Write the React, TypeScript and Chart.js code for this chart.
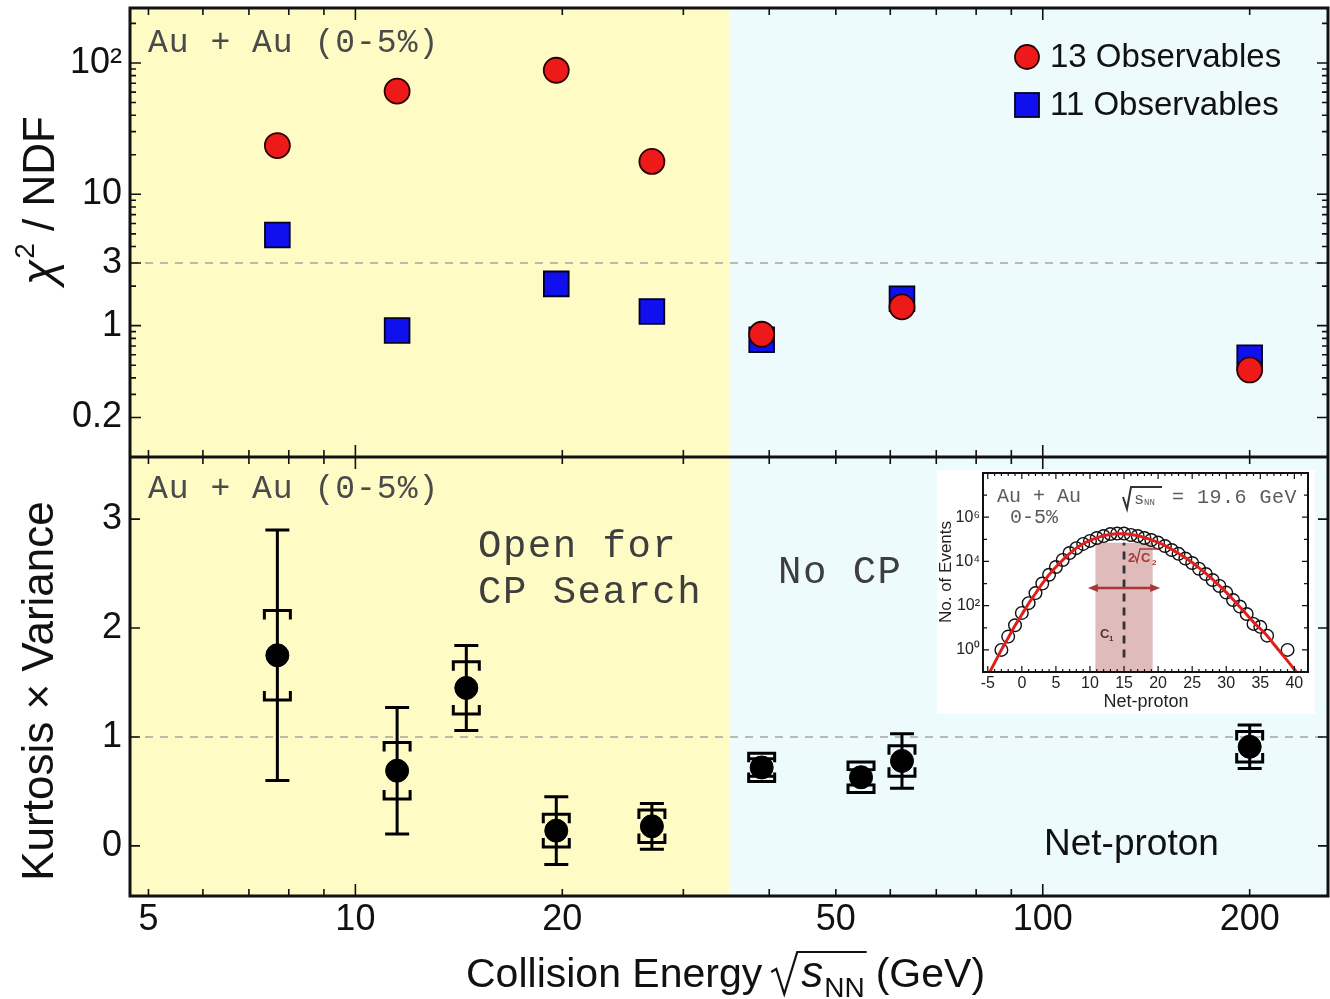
import React, { useEffect, useRef } from 'react';
import { Chart, registerables } from 'chart.js';

Chart.register(...registerables);

// ---------------- Data ----------------
const chi2Energies = [7.7, 11.5, 19.6, 27, 39, 62.4, 200];
const chi2Obs13 = [23.5, 61, 88, 17.8, 0.86, 1.39, 0.46];
const chi2Obs11 = [4.9, 0.92, 2.08, 1.28, 0.78, 1.6, 0.57];
const chi2Threshold = 3;

const kvEnergies = [7.7, 11.5, 14.5, 19.6, 27, 39, 54.4, 62.4, 200];
const kvValues = [1.75, 0.69, 1.45, 0.14, 0.18, 0.72, 0.63, 0.78, 0.91];
const kvStatErr = [1.15, 0.58, 0.39, 0.31, 0.21, 0.08, 0.07, 0.25, 0.2];
const kvSysErr = [0.41, 0.26, 0.24, 0.15, 0.15, 0.13, 0.14, 0.14, 0.14];
const kvReference = 1;

const cpBoundaryEnergy = 35;
const energyRange = [4.7, 260];
const chi2Range = [0.1, 262];
const kvRange = [-0.46, 3.57];

const xLabelledTicks = [5, 10, 20, 50, 100, 200];
const xMinorTicks = [6, 7, 8, 9, 30, 40, 60, 70, 80, 90];
const xDecadeTicks = [10, 100];

const chi2TickValues = [0.2, 1, 3, 10, 100];
const chi2TickLabels = ['0.2', '1', '3', '10', '10²'];
const chi2MinorTicks = [0.3, 0.4, 0.5, 0.6, 0.7, 0.8, 0.9, 2, 4, 5, 6, 7, 8, 9, 20, 30, 40, 50, 60, 70, 80, 90, 200];
const kvTickValues = [0, 1, 2, 3];
const kvTickLabels = ['0', '1', '2', '3'];

// Inset: net-proton distribution at 19.6 GeV
const netProtonBins = [-3, -2, -1, 0, 1, 2, 3, 4, 5, 6, 7, 8, 9, 10, 11, 12, 13, 14, 15, 16, 17, 18, 19, 20, 21, 22, 23, 24, 25, 26, 27, 28, 29, 30, 31, 32, 33, 34, 35, 36, 39];
const netProtonCounts = [1, 4, 13, 47, 130, 370, 1000, 2500, 5600, 11700, 24000, 40000, 62000, 85000, 115000, 141000, 174000, 182000, 182000, 158000, 141000, 115000, 93000, 71000, 50000, 33000, 22000, 13500, 8500, 4700, 2700, 1450, 780, 390, 180, 91, 42, 15, 11, 4.4, 1];
const fitNetProton = [-5, -4, -3, -2, -1, 0, 1, 2, 3, 4, 5, 6, 7, 8, 9, 10, 11, 12, 13, 14, 15, 16, 17, 18, 19, 20, 21, 22, 23, 24, 25, 26, 27, 28, 29, 30, 31, 32, 33, 34, 35, 36, 37, 38, 39, 40, 41];
const fitCounts = [0.066, 0.26, 1.0, 3.5, 12.6, 40, 126, 355, 1000, 2500, 5600, 11500, 22500, 40000, 63000, 89000, 117000, 145000, 166000, 178000, 178000, 166000, 145000, 120000, 95000, 72000, 52000, 35000, 23000, 14800, 8900, 5100, 2900, 1550, 800, 400, 190, 87, 40, 18, 9, 4.4, 1.8, 0.75, 0.32, 0.13, 0.05];
const insetXRange = [-5.7, 42];
const insetYRange = [0.1, 1e8];
const insetXTicks = [-5, 0, 5, 10, 15, 20, 25, 30, 35, 40];
const insetYTickValues = [1, 100, 1e4, 1e6];
const insetYTickLabels = ['10⁰', '10²', '10⁴', '10⁶'];
const c1Mean = 15;
const widthBand = [10.8, 19.2];
const widthBandTop = 7e4;
const widthArrow = [9.7, 20.3];
const widthArrowLevel = 630;
const c1LineSpan = [0.45, 7e4];

// ---------------- Styling ----------------
const SANS = '"Liberation Sans", Arial, Helvetica, sans-serif';
const MONO = '"Liberation Mono", "Courier New", monospace';
const YELLOW = '#FEFBC4';
const CYAN = '#EEFBFC';
const RED = '#EE1A1A';
const BLUE = '#1010EE';
const MONO_GREY = '#4a4a4a';

function fixBox(width?: number, height?: number) {
  return (s: any) => {
    if (width !== undefined) s.width = width;
    if (height !== undefined) s.height = height;
    s.paddingTop = 0;
    s.paddingBottom = 0;
    s.paddingLeft = 0;
    s.paddingRight = 0;
  };
}

function monoText(ctx: CanvasRenderingContext2D, text: string, x: number, y: number, size: number, spacing: number, color: string) {
  ctx.save();
  ctx.font = `${size}px ${MONO}`;
  (ctx as any).letterSpacing = `${spacing}px`;
  ctx.fillStyle = color;
  ctx.textAlign = 'left';
  ctx.textBaseline = 'middle';
  ctx.fillText(text, x, y);
  ctx.restore();
}

const mainPlugin = {
  id: 'mainDecor',
  beforeDraw(chart: any) {
    const { ctx, chartArea: a, scales } = chart;
    const xb = scales.x.getPixelForValue(cpBoundaryEnergy);
    ctx.save();
    ctx.fillStyle = '#ffffff';
    ctx.fillRect(0, 0, chart.width, chart.height);
    ctx.fillStyle = YELLOW;
    ctx.fillRect(a.left, a.top, xb - a.left, a.bottom - a.top);
    ctx.fillStyle = CYAN;
    ctx.fillRect(xb, a.top, a.right - xb, a.bottom - a.top);
    ctx.restore();
  },
  afterDatasetsDraw(chart: any) {
    const { ctx, scales } = chart;
    const sx = scales.x;
    const sy = scales.yBot;
    ctx.save();
    ctx.strokeStyle = '#000';
    ctx.lineWidth = 3;
    ctx.lineCap = 'butt';
    for (let i = 0; i < kvEnergies.length; i++) {
      const x = sx.getPixelForValue(kvEnergies[i]);
      const v = kvValues[i];
      const yh = sy.getPixelForValue(v + kvStatErr[i]);
      const yl = sy.getPixelForValue(v - kvStatErr[i]);
      ctx.beginPath();
      ctx.moveTo(x, yh); ctx.lineTo(x, yl);
      ctx.moveTo(x - 12, yh); ctx.lineTo(x + 12, yh);
      ctx.moveTo(x - 12, yl); ctx.lineTo(x + 12, yl);
      ctx.stroke();
      const sh = sy.getPixelForValue(v + kvSysErr[i]);
      const sl = sy.getPixelForValue(v - kvSysErr[i]);
      const leg = Math.min(9, (sl - sh) / 2);
      const hw = 13;
      ctx.beginPath();
      ctx.moveTo(x - hw, sh + leg); ctx.lineTo(x - hw, sh); ctx.lineTo(x + hw, sh); ctx.lineTo(x + hw, sh + leg);
      ctx.moveTo(x - hw, sl - leg); ctx.lineTo(x - hw, sl); ctx.lineTo(x + hw, sl); ctx.lineTo(x + hw, sl - leg);
      ctx.stroke();
    }
    ctx.restore();
  },
  afterDraw(chart: any) {
    const { ctx, chartArea: a, scales } = chart;
    const sx = scales.x;
    const yTop = scales.yTop;
    const yBot = scales.yBot;
    const mid = yTop.bottom;
    ctx.save();
    // ticks
    ctx.strokeStyle = '#111';
    ctx.lineWidth = 1.6;
    ctx.beginPath();
    const xAll = [...xLabelledTicks, ...xMinorTicks];
    for (const v of xAll) {
      const px = sx.getPixelForValue(v);
      const len = xDecadeTicks.includes(v) ? 12 : 7;
      ctx.moveTo(px, a.bottom); ctx.lineTo(px, a.bottom - len);
      ctx.moveTo(px, a.top); ctx.lineTo(px, a.top + len);
      ctx.moveTo(px, mid - len); ctx.lineTo(px, mid + len);
    }
    for (const v of chi2TickValues) {
      const py = yTop.getPixelForValue(v);
      ctx.moveTo(a.left, py); ctx.lineTo(a.left + 11, py);
      ctx.moveTo(a.right, py); ctx.lineTo(a.right - 11, py);
    }
    for (const v of chi2MinorTicks) {
      const py = yTop.getPixelForValue(v);
      ctx.moveTo(a.left, py); ctx.lineTo(a.left + 6, py);
      ctx.moveTo(a.right, py); ctx.lineTo(a.right - 6, py);
    }
    for (const v of kvTickValues) {
      const py = yBot.getPixelForValue(v);
      ctx.moveTo(a.left, py); ctx.lineTo(a.left + 10, py);
      ctx.moveTo(a.right, py); ctx.lineTo(a.right - 10, py);
    }
    ctx.stroke();
    // frame
    ctx.lineWidth = 3;
    ctx.strokeStyle = '#111';
    ctx.strokeRect(a.left, a.top, a.right - a.left, a.bottom - a.top);
    ctx.beginPath();
    ctx.moveTo(a.left, mid); ctx.lineTo(a.right, mid);
    ctx.stroke();
    ctx.restore();

    // panel texts
    monoText(ctx, 'Au + Au (0-5%)', 148, 43, 33, 1, MONO_GREY);
    monoText(ctx, 'Au + Au (0-5%)', 148, 489, 33, 1, MONO_GREY);
    monoText(ctx, 'Open for', 478, 547, 39, 1.5, '#3e3e3e');
    monoText(ctx, 'CP Search', 478, 593, 39, 1.5, '#3e3e3e');
    monoText(ctx, 'No CP', 778, 573, 39, 1.5, '#3e3e3e');

    ctx.save();
    ctx.fillStyle = '#111';
    ctx.font = `37px ${SANS}`;
    ctx.textBaseline = 'alphabetic';
    ctx.textAlign = 'left';
    ctx.fillText('Net-proton', 1044, 855);

    // legend
    const ds = chart.data.datasets;
    ctx.beginPath();
    ctx.arc(1027, 57, 12, 0, Math.PI * 2);
    ctx.fillStyle = RED; ctx.fill();
    ctx.lineWidth = 1.8; ctx.strokeStyle = '#2a0000'; ctx.stroke();
    ctx.fillStyle = BLUE;
    ctx.fillRect(1015, 93, 24, 24);
    ctx.strokeStyle = '#000022';
    ctx.strokeRect(1015, 93, 24, 24);
    ctx.fillStyle = '#111';
    ctx.font = `33px ${SANS}`;
    ctx.textBaseline = 'middle';
    ctx.fillText(ds[0].label, 1050, 58);
    ctx.fillText(ds[1].label, 1050, 106);

    // y titles
    ctx.save();
    ctx.translate(54, 201);
    ctx.rotate(-Math.PI / 2);
    ctx.textBaseline = 'alphabetic';
    ctx.font = `italic 46px ${SANS}`;
    const wChi = ctx.measureText('χ').width;
    ctx.font = `28px ${SANS}`;
    const wSup = ctx.measureText('2').width;
    ctx.font = `44px ${SANS}`;
    const rest = ' / NDF';
    const wRest = ctx.measureText(rest).width;
    let tx = -(wChi + wSup + wRest) / 2;
    ctx.font = `italic 46px ${SANS}`;
    ctx.fillText('χ', tx, 0);
    tx += wChi + 1;
    ctx.font = `28px ${SANS}`;
    ctx.fillText('2', tx, -20);
    tx += wSup;
    ctx.font = `44px ${SANS}`;
    ctx.fillText(rest, tx, 0);
    ctx.restore();

    ctx.save();
    ctx.translate(53, 691);
    ctx.rotate(-Math.PI / 2);
    ctx.textAlign = 'center';
    ctx.textBaseline = 'alphabetic';
    ctx.font = `44px ${SANS}`;
    ctx.fillText('Kurtosis × Variance', 0, 0);
    ctx.restore();

    // x title
    const base = 987;
    ctx.textBaseline = 'alphabetic';
    ctx.textAlign = 'left';
    ctx.font = `41px ${SANS}`;
    let x = 466;
    ctx.fillText('Collision Energy', x, base);
    x += ctx.measureText('Collision Energy').width + 9;
    const sxs = x + 30;
    ctx.font = `italic 44px ${SANS}`;
    const sw = ctx.measureText('s').width;
    ctx.font = `28px ${SANS}`;
    const nw = ctx.measureText('NN').width;
    ctx.strokeStyle = '#111';
    ctx.lineWidth = 2.2;
    ctx.beginPath();
    ctx.moveTo(x, base - 15);
    ctx.lineTo(x + 5, base - 18);
    ctx.lineTo(x + 13, base + 7);
    ctx.lineTo(x + 26, base - 35);
    ctx.lineTo(sxs + sw + nw + 3, base - 35);
    ctx.stroke();
    ctx.font = `italic 44px ${SANS}`;
    ctx.fillText('s', sxs, base);
    ctx.font = `28px ${SANS}`;
    ctx.fillText('NN', sxs + sw + 1, base + 10);
    ctx.font = `41px ${SANS}`;
    ctx.fillText('(GeV)', sxs + sw + nw + 12, base);
    ctx.restore();
  },
};

const insetPlugin = {
  id: 'insetDecor',
  beforeDraw(chart: any) {
    const { ctx } = chart;
    ctx.save();
    ctx.fillStyle = '#ffffff';
    ctx.fillRect(0, 0, chart.width, chart.height);
    ctx.restore();
  },
  beforeDatasetsDraw(chart: any) {
    const { ctx, chartArea: a, scales } = chart;
    const x0 = scales.x.getPixelForValue(widthBand[0]);
    const x1 = scales.x.getPixelForValue(widthBand[1]);
    const yt = scales.y.getPixelForValue(widthBandTop);
    ctx.save();
    ctx.fillStyle = 'rgba(185, 105, 105, 0.45)';
    ctx.fillRect(x0, yt, x1 - x0, a.bottom - yt);
    ctx.restore();
  },
  afterDatasetsDraw(chart: any) {
    const { ctx, scales } = chart;
    const ya = scales.y.getPixelForValue(widthArrowLevel);
    const xa0 = scales.x.getPixelForValue(widthArrow[0]);
    const xa1 = scales.x.getPixelForValue(widthArrow[1]);
    ctx.save();
    ctx.strokeStyle = '#A83838';
    ctx.fillStyle = '#A83838';
    ctx.lineWidth = 2.5;
    ctx.beginPath();
    ctx.moveTo(xa0 + 6, ya); ctx.lineTo(xa1 - 6, ya);
    ctx.stroke();
    ctx.beginPath();
    ctx.moveTo(xa0, ya); ctx.lineTo(xa0 + 10, ya - 4); ctx.lineTo(xa0 + 10, ya + 4); ctx.closePath();
    ctx.moveTo(xa1, ya); ctx.lineTo(xa1 - 10, ya - 4); ctx.lineTo(xa1 - 10, ya + 4); ctx.closePath();
    ctx.fill();
    // 2 sqrt(C2)
    ctx.font = `bold 13px ${SANS}`;
    ctx.textBaseline = 'alphabetic';
    ctx.fillText('2', 191, 92);
    ctx.lineWidth = 1.3;
    ctx.beginPath();
    ctx.moveTo(198, 86); ctx.lineTo(200, 92); ctx.lineTo(203, 79); ctx.lineTo(222, 79);
    ctx.stroke();
    ctx.fillText('C', 204, 92);
    ctx.font = `bold 8px ${SANS}`;
    ctx.fillText('2', 215, 95);
    // C1
    ctx.fillStyle = '#5a3434';
    ctx.font = `bold 13px ${SANS}`;
    ctx.fillText('C', 163, 168);
    ctx.font = `bold 8px ${SANS}`;
    ctx.fillText('1', 172, 171);
    ctx.restore();
  },
  afterDraw(chart: any) {
    const { ctx, chartArea: a, scales } = chart;
    ctx.save();
    ctx.strokeStyle = '#111';
    ctx.lineWidth = 1.2;
    ctx.beginPath();
    for (let v = -5; v <= 41; v++) {
      const px = scales.x.getPixelForValue(v);
      const len = v % 5 === 0 ? 6 : 3;
      ctx.moveTo(px, a.bottom); ctx.lineTo(px, a.bottom - len);
      ctx.moveTo(px, a.top); ctx.lineTo(px, a.top + len);
    }
    for (let e = -1; e <= 8; e++) {
      const py = scales.y.getPixelForValue(Math.pow(10, e));
      const len = e % 2 === 0 ? 6 : 4;
      ctx.moveTo(a.left, py); ctx.lineTo(a.left + len, py);
      ctx.moveTo(a.right, py); ctx.lineTo(a.right - len, py);
    }
    ctx.stroke();
    ctx.lineWidth = 2;
    ctx.strokeRect(a.left, a.top, a.right - a.left, a.bottom - a.top);
    ctx.restore();

    monoText(ctx, 'Au + Au', 60, 27, 20, 0, '#5c5c5c');
    monoText(ctx, '0-5%', 73, 48, 20, 0, '#5c5c5c');
    // sqrt(s_NN) = 19.6 GeV
    ctx.save();
    ctx.strokeStyle = '#333';
    ctx.lineWidth = 2;
    ctx.beginPath();
    ctx.moveTo(186, 27); ctx.lineTo(190, 39); ctx.lineTo(194, 17); ctx.lineTo(225, 17);
    ctx.stroke();
    ctx.restore();
    monoText(ctx, 's', 197, 29, 17, 0, '#5c5c5c');
    monoText(ctx, 'NN', 207, 33, 9, 0, '#5c5c5c');
    monoText(ctx, '= 19.6 GeV', 235, 28, 20, 0.5, '#5c5c5c');

    ctx.save();
    ctx.fillStyle = '#222';
    ctx.font = `18px ${SANS}`;
    ctx.textAlign = 'center';
    ctx.textBaseline = 'middle';
    ctx.fillText('Net-proton', 209, 232);
    ctx.font = `17px ${SANS}`;
    ctx.translate(9, 102);
    ctx.rotate(-Math.PI / 2);
    ctx.fillText('No. of Events', 0, 0);
    ctx.restore();
  },
};

function MainChart() {
  const ref = useRef<HTMLCanvasElement>(null);
  useEffect(() => {
    const canvas = ref.current!;
    const xy = (xs: number[], ys: number[]) => xs.map((x, i) => ({ x, y: ys[i] }));
    const chart = new Chart(canvas, {
      type: 'scatter',
      data: {
        datasets: [
          {
            label: '13 Observables',
            data: xy(chi2Energies, chi2Obs13),
            yAxisID: 'yTop',
            pointStyle: 'circle',
            pointRadius: 12.5,
            backgroundColor: RED,
            borderColor: '#2a0000',
            borderWidth: 1.8,
          },
          {
            label: '11 Observables',
            data: xy(chi2Energies, chi2Obs11),
            yAxisID: 'yTop',
            pointStyle: 'rect',
            pointRadius: 17.5,
            backgroundColor: BLUE,
            borderColor: '#000022',
            borderWidth: 1.8,
          },
          {
            label: 'Kurtosis x Variance',
            data: xy(kvEnergies, kvValues),
            yAxisID: 'yBot',
            pointStyle: 'circle',
            pointRadius: 11.5,
            backgroundColor: '#000',
            borderColor: '#000',
            borderWidth: 1,
          },
          {
            type: 'line',
            label: 'chi2 threshold',
            data: xy(energyRange, [chi2Threshold, chi2Threshold]),
            yAxisID: 'yTop',
            borderColor: '#a5a5a5',
            borderWidth: 1.5,
            borderDash: [8, 7],
            pointRadius: 0,
          },
          {
            type: 'line',
            label: 'kv reference',
            data: xy(energyRange, [kvReference, kvReference]),
            yAxisID: 'yBot',
            borderColor: '#a5a5a5',
            borderWidth: 1.5,
            borderDash: [8, 7],
            pointRadius: 0,
          },
        ] as any,
      },
      options: {
        animation: false,
        responsive: false,
        maintainAspectRatio: false,
        layout: { autoPadding: false, padding: { top: 8, right: 2, left: 0, bottom: 0 } },
        plugins: { legend: { display: false }, tooltip: { enabled: false } },
        scales: {
          x: {
            type: 'logarithmic',
            position: 'bottom',
            min: energyRange[0],
            max: energyRange[1],
            grid: { display: false, drawTicks: false },
            border: { display: false },
            afterBuildTicks: (s: any) => { s.ticks = xLabelledTicks.map((v) => ({ value: v })); },
            afterFit: fixBox(undefined, 103),
            ticks: {
              autoSkip: false,
              maxRotation: 0,
              padding: 2,
              color: '#111',
              font: { family: SANS, size: 36 },
              callback: (v: any) => String(v),
            },
          },
          yBot: {
            type: 'linear',
            position: 'left',
            stack: 'panels',
            stackWeight: 439,
            min: kvRange[0],
            max: kvRange[1],
            grid: { display: false, drawTicks: false },
            border: { display: false },
            afterBuildTicks: (s: any) => { s.ticks = kvTickValues.map((v) => ({ value: v })); },
            afterFit: fixBox(130, undefined),
            ticks: {
              padding: 8,
              color: '#111',
              font: { family: SANS, size: 36 },
              callback: (v: any) => kvTickLabels[kvTickValues.indexOf(Number(v))] ?? '',
            },
          },
          yTop: {
            type: 'logarithmic',
            position: 'left',
            stack: 'panels',
            stackWeight: 449,
            min: chi2Range[0],
            max: chi2Range[1],
            grid: { display: false, drawTicks: false },
            border: { display: false },
            afterBuildTicks: (s: any) => { s.ticks = chi2TickValues.map((v) => ({ value: v })); },
            afterFit: fixBox(130, undefined),
            ticks: {
              padding: 8,
              color: '#111',
              font: { family: SANS, size: 36 },
              callback: (v: any) => chi2TickLabels[chi2TickValues.indexOf(Number(v))] ?? '',
            },
          },
        },
      } as any,
      plugins: [mainPlugin],
    });
    return () => chart.destroy();
  }, []);
  return <canvas ref={ref} width={1330} height={999} style={{ position: 'absolute', left: 0, top: 0 }} />;
}

function InsetChart() {
  const ref = useRef<HTMLCanvasElement>(null);
  useEffect(() => {
    const canvas = ref.current!;
    const xy = (xs: number[], ys: number[]) => xs.map((x, i) => ({ x, y: ys[i] }));
    const chart = new Chart(canvas, {
      type: 'scatter',
      data: {
        datasets: [
          {
            type: 'line',
            label: 'fit',
            data: xy(fitNetProton, fitCounts),
            borderColor: '#E01E1E',
            borderWidth: 3,
            pointRadius: 0,
            tension: 0.4,
          },
          {
            label: 'Net-proton events',
            data: xy(netProtonBins, netProtonCounts),
            pointStyle: 'circle',
            pointRadius: 6.3,
            backgroundColor: 'rgba(0,0,0,0)',
            borderColor: '#111',
            borderWidth: 1.4,
          },
          {
            type: 'line',
            label: 'C1',
            data: xy([c1Mean, c1Mean], c1LineSpan),
            borderColor: '#333',
            borderWidth: 2.8,
            borderDash: [8, 6],
            pointRadius: 0,
          },
        ] as any,
      },
      options: {
        animation: false,
        responsive: false,
        maintainAspectRatio: false,
        layout: { autoPadding: false, padding: { top: 3, right: 7, left: 0, bottom: 0 } },
        plugins: { legend: { display: false }, tooltip: { enabled: false } },
        scales: {
          x: {
            type: 'linear',
            min: insetXRange[0],
            max: insetXRange[1],
            grid: { display: false, drawTicks: false },
            border: { display: false },
            afterBuildTicks: (s: any) => { s.ticks = insetXTicks.map((v) => ({ value: v })); },
            afterFit: fixBox(undefined, 42),
            ticks: { autoSkip: false, maxRotation: 0, padding: 2, color: '#222', font: { family: SANS, size: 16 } },
          },
          y: {
            type: 'logarithmic',
            min: insetYRange[0],
            max: insetYRange[1],
            grid: { display: false, drawTicks: false },
            border: { display: false },
            afterBuildTicks: (s: any) => { s.ticks = insetYTickValues.map((v) => ({ value: v })); },
            afterFit: fixBox(46, undefined),
            ticks: {
              padding: 3,
              color: '#222',
              font: { family: SANS, size: 16 },
              callback: (v: any) => insetYTickLabels[insetYTickValues.indexOf(Number(v))] ?? '',
            },
          },
        },
      } as any,
      plugins: [insetPlugin],
    });
    return () => chart.destroy();
  }, []);
  return <canvas ref={ref} width={378} height={244} style={{ position: 'absolute', left: 937, top: 470 }} />;
}

export default function App() {
  return (
    <div style={{ position: 'absolute', left: 0, top: 0, width: 1330, height: 999, background: '#fff' }}>
      <MainChart />
      <InsetChart />
    </div>
  );
}
